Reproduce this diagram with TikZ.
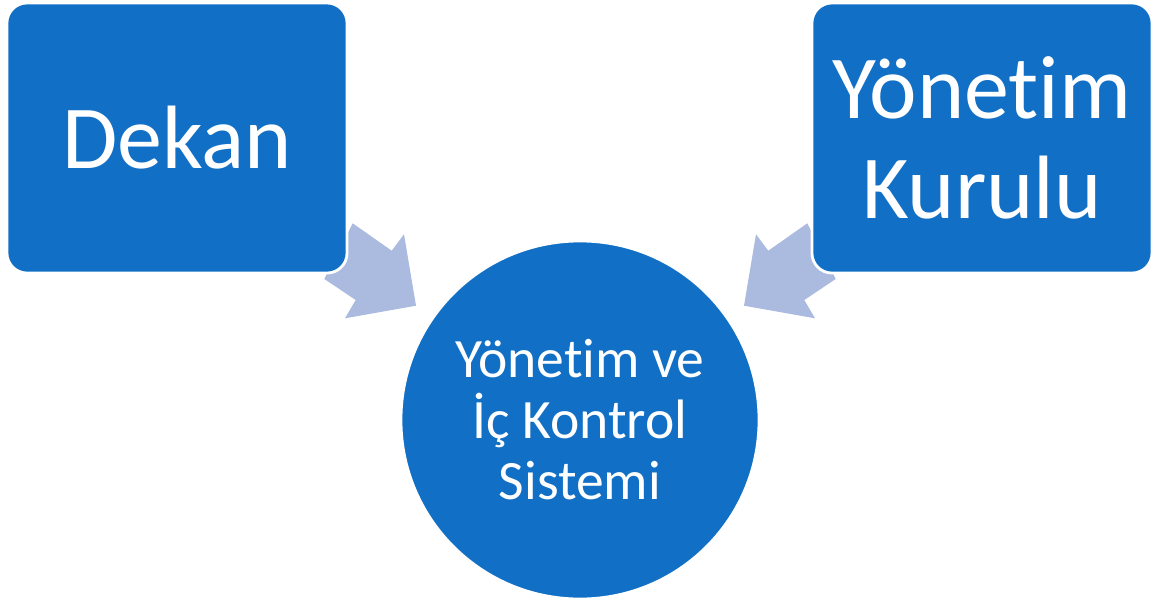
\documentclass[tikz,border=0pt]{standalone}
\usepackage{fontspec}
\setmainfont{Carlito}
\newcommand{\nolig}{\kern0pt}
\definecolor{boxblue}{HTML}{1170C6}
\definecolor{arrowblue}{HTML}{ABBBE0}
\tikzset{
	box/.style={draw=white, line width=2pt, fill=boxblue, rounded corners=0.5cm, minimum width=8.5cm, minimum height=6.75cm, inner sep=0pt, text=white, align=center, font=\fontsize{64}{71}\selectfont},
	hub/.style={circle, draw=white, line width=2pt, fill=boxblue, minimum size=8.95cm, inner sep=0pt, text=white, align=center, font=\fontsize{39.5}{43.4}\selectfont},
	blockarrow/.style={fill=arrowblue}
}

\begin{document}
\begin{tikzpicture}[x=0.025cm, y=-0.025cm]
			%%%%% START %%%%%
			
			\useasboundingbox (0, 0) rectangle (1160, 605);
			
			\fill[blockarrow] (352.7, 223.3) -- (391.7, 250.7) -- (404, 234.3) -- (416, 305.7) -- (345, 318.3) -- (355.7, 300) -- (324.3, 279) -- cycle;
			\fill[blockarrow] (807.3, 223.3) -- (768.3, 250.7) -- (756, 234.3) -- (744, 305.7) -- (815, 318.3) -- (804.3, 300) -- (835.7, 279) -- cycle;
			
			\node[box] (dekan) at (177, 138) {Dekan};
			\node[box] (kurul) at (982, 138) {Yönet\nolig im\\Kurulu};
			
			\node[hub] (sistem) at (580, 420) {Yönet\nolig im ve\\İç Kontrol\\Sistemi};
			
			%%%%% END %%%%%
\end{tikzpicture}
\end{document}
